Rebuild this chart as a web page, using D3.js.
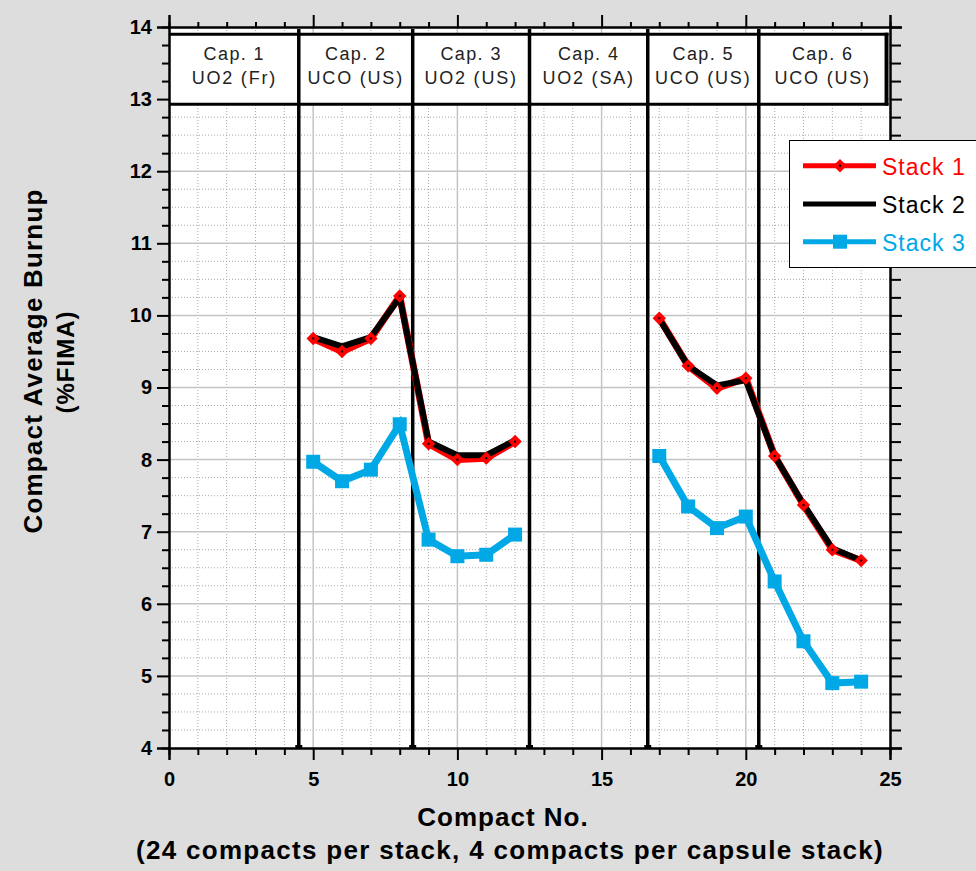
<!DOCTYPE html>
<html>
<head>
<meta charset="utf-8">
<script src="https://cdn.jsdelivr.net/npm/d3@7"></script>
<style>
  html, body { margin: 0; padding: 0; background: #dcdddc; }
  svg { display: block; }
</style>
</head>
<body>
<svg id="chart" width="976" height="871"></svg>
<script>
// ---------------- DATA ----------------
const compactNo = [1,2,3,4,5,6,7,8,9,10,11,12,13,14,15,16,17,18,19,20,21,22,23,24];
const stack1 = [null,null,null,null, 9.68,9.50,9.68,10.27,8.22,8.00,8.02,8.25, null,null,null,null, 9.96,9.30,8.99,9.13,8.05,7.37,6.75,6.60];
const stack2 = [null,null,null,null, 9.70,9.57,9.70,10.25,8.25,8.06,8.06,8.27, null,null,null,null, 9.95,9.30,9.03,9.10,8.05,7.38,6.77,6.60];
const stack3 = [null,null,null,null, 7.97,7.70,7.86,8.49,6.89,6.66,6.68,6.96, null,null,null,null, 8.05,7.35,7.05,7.21,6.31,5.48,4.90,4.92];
const seriesNames = ["Stack 1", "Stack 2", "Stack 3"];
const capsuleNames = ["Cap. 1", "Cap. 2", "Cap. 3", "Cap. 4", "Cap. 5", "Cap. 6"];
const capsuleFuel = ["UO2 (Fr)", "UCO (US)", "UO2 (US)", "UO2 (SA)", "UCO (US)", "UCO (US)"];
const capsuleDividers = [4.5, 8.45, 12.5, 16.6, 20.45];
const xTicks = [0, 5, 10, 15, 20, 25];
const yTicks = [4, 5, 6, 7, 8, 9, 10, 11, 12, 13, 14];
const xTitle = "Compact No.";
const xSubtitle = "(24 compacts per stack, 4 compacts per capsule stack)";
const yTitle = "Compact Average Burnup";
const ySubtitle = "(%FIMA)";

// ---------------- LAYOUT ----------------
const svg = d3.select("#chart");
const L = 169, R = 890, T = 27, B = 748;
const x = d3.scaleLinear().domain([0, 25]).range([L, R]);
const y = d3.scaleLinear().domain([4, 14]).range([B, T]);
const RED = "#ff0000", BLACK = "#000000", BLUE = "#00a8e6";

svg.append("rect").attr("width", 976).attr("height", 871).attr("fill", "#dcdddc");
svg.append("rect").attr("x", L).attr("y", T).attr("width", R - L).attr("height", B - T).attr("fill", "#fff");

// minor grid
const xMinor = d3.range(1, 25).filter(v => v % 5 !== 0);
const yMinor = d3.range(4, 14.001, 0.25).filter(v => Math.abs(v - Math.round(v)) > 1e-6);
const grid = svg.append("g");
grid.selectAll(".xm").data(xMinor).join("line")
  .attr("x1", d => x(d)).attr("x2", d => x(d)).attr("y1", T).attr("y2", B)
  .attr("stroke", "#aaaaaa").attr("stroke-width", 1).attr("stroke-dasharray", "1,2");
grid.selectAll(".ym").data(yMinor).join("line")
  .attr("y1", d => y(d)).attr("y2", d => y(d)).attr("x1", L).attr("x2", R)
  .attr("stroke", "#aaaaaa").attr("stroke-width", 1).attr("stroke-dasharray", "1,2");
// major grid
grid.selectAll(".xM").data(xTicks.slice(1, -1)).join("line")
  .attr("x1", d => x(d)).attr("x2", d => x(d)).attr("y1", T).attr("y2", B)
  .attr("stroke", "#c4c4c4").attr("stroke-width", 1.5);
grid.selectAll(".yM").data(yTicks.slice(1, -1)).join("line")
  .attr("y1", d => y(d)).attr("y2", d => y(d)).attr("x1", L).attr("x2", R)
  .attr("stroke", "#c4c4c4").attr("stroke-width", 1.5);

// capsule label boxes
const boxTop = y(13.9), boxBot = y(12.93);
const bounds = [0.03].concat(capsuleDividers, [24.88]);
svg.append("rect").attr("x", x(bounds[0])).attr("y", boxTop)
  .attr("width", x(bounds[6]) - x(bounds[0])).attr("height", boxBot - boxTop)
  .attr("fill", "#fff").attr("stroke", "none");
svg.append("line").attr("x1", x(bounds[0])).attr("x2", x(bounds[6]) + 2).attr("y1", boxTop).attr("y2", boxTop)
  .attr("stroke", "#000").attr("stroke-width", 3);
svg.append("line").attr("x1", x(bounds[0])).attr("x2", x(bounds[6]) + 2).attr("y1", boxBot).attr("y2", boxBot)
  .attr("stroke", "#000").attr("stroke-width", 3);
svg.append("line").attr("x1", x(bounds[6])).attr("x2", x(bounds[6])).attr("y1", boxTop - 1.5).attr("y2", boxBot + 1.5)
  .attr("stroke", "#000").attr("stroke-width", 4);

const capG = svg.append("g");
capsuleNames.forEach((n, i) => {
  const cx = (x(bounds[i]) + x(bounds[i + 1])) / 2;
  capG.append("text").attr("x", cx).attr("y", 60).attr("text-anchor", "middle")
    .attr("font-family", "Liberation Sans, Arial, sans-serif").attr("font-size", 18)
    .attr("letter-spacing", 1.4).attr("fill", "#222").text(n);
  capG.append("text").attr("x", cx).attr("y", 83.5).attr("text-anchor", "middle")
    .attr("font-family", "Liberation Sans, Arial, sans-serif").attr("font-size", 18)
    .attr("letter-spacing", 1.8).attr("fill", "#222").text(capsuleFuel[i]);
});

// dividers
const divG = svg.append("g");
divG.selectAll("line").data(capsuleDividers).join("line")
  .attr("x1", d => x(d)).attr("x2", d => x(d)).attr("y1", T + 2).attr("y2", B)
  .attr("stroke", "#000").attr("stroke-width", 3.5);
divG.selectAll("rect").data(capsuleDividers).join("rect")
  .attr("x", d => x(d) - 3.5).attr("y", B - 3).attr("width", 7).attr("height", 3).attr("fill", "#000");

// axes
function styleAxis(g) {
  g.selectAll(".domain").attr("stroke", "#000").attr("stroke-width", 2);
  g.selectAll(".tick line").attr("stroke", "#000").attr("stroke-width", 2);
  g.selectAll("text").attr("font-family", "Liberation Sans, Arial, sans-serif")
    .attr("font-weight", "bold").attr("font-size", 20).attr("fill", "#000");
}
const tickFmt = d3.format("d");
svg.append("g").attr("transform", `translate(0,${B})`)
  .call(d3.axisBottom(x).tickValues(xMinor).tickSize(7).tickFormat("")).call(styleAxis);
svg.append("g").attr("transform", `translate(0,${B})`)
  .call(d3.axisBottom(x).tickValues(xTicks).tickSize(12).tickPadding(12).tickFormat(tickFmt)).call(styleAxis);
svg.append("g").attr("transform", `translate(0,${T})`)
  .call(d3.axisTop(x).tickValues(xMinor).tickSize(5).tickFormat("")).call(styleAxis);
svg.append("g").attr("transform", `translate(0,${T})`)
  .call(d3.axisTop(x).tickValues(xTicks).tickSize(12).tickFormat("")).call(styleAxis);
svg.append("g").attr("transform", `translate(${L},0)`)
  .call(d3.axisLeft(y).tickValues(yMinor).tickSize(7).tickFormat("")).call(styleAxis);
svg.append("g").attr("transform", `translate(${L},0)`)
  .call(d3.axisLeft(y).tickValues(yTicks).tickSize(12).tickPadding(5).tickFormat(tickFmt)).call(styleAxis);
svg.append("g").attr("transform", `translate(${R},0)`)
  .call(d3.axisRight(y).tickValues(yMinor).tickSize(11).tickFormat("")).call(styleAxis);
svg.append("g").attr("transform", `translate(${R},0)`)
  .call(d3.axisRight(y).tickValues(yTicks).tickSize(12).tickFormat("")).call(styleAxis);

// series
const toPts = arr => compactNo.map((c, i) => ({ c, v: arr[i] }));
const line = d3.line().defined(d => d.v !== null).x(d => x(d.c)).y(d => y(d.v));
const s1 = toPts(stack1), s2 = toPts(stack2), s3 = toPts(stack3);

svg.append("path").datum(s1).attr("d", line).attr("fill", "none").attr("stroke", RED)
  .attr("stroke-width", 7).attr("stroke-linejoin", "round");
svg.append("path").datum(s2).attr("d", line).attr("fill", "none").attr("stroke", BLACK)
  .attr("stroke-width", 6).attr("stroke-linejoin", "round");
const diamond = d3.symbol().type(d3.symbolDiamond2).size(115);
const d1 = s1.filter(d => d.v !== null);
svg.append("g").selectAll("path").data(d1).join("path")
  .attr("transform", d => `translate(${x(d.c)},${y(d.v)})`).attr("d", diamond).attr("fill", RED);
svg.append("g").selectAll("rect").data(d1).join("rect")
  .attr("x", d => x(d.c) - 1).attr("y", d => y(d.v) - 1).attr("width", 2).attr("height", 2).attr("fill", "#000");

svg.append("path").datum(s3).attr("d", line).attr("fill", "none").attr("stroke", BLUE)
  .attr("stroke-width", 7).attr("stroke-linejoin", "miter");
const d3p = s3.filter(d => d.v !== null);
svg.append("g").selectAll("rect").data(d3p).join("rect")
  .attr("x", d => x(d.c) - 7).attr("y", d => y(d.v) - 7).attr("width", 14).attr("height", 14).attr("fill", BLUE);

// legend
const lg = svg.append("g");
lg.append("rect").attr("x", 789.5).attr("y", 140.5).attr("width", 200).attr("height", 127)
  .attr("fill", "#fff").attr("stroke", "#000").attr("stroke-width", 1);
const legY = [165.7, 204, 241.7];
const legColors = [RED, BLACK, BLUE];
const legText = ["#ff0000", "#000000", "#00a8e6"];
seriesNames.forEach((n, i) => {
  lg.append("line").attr("x1", 803).attr("x2", 876).attr("y1", legY[i]).attr("y2", legY[i])
    .attr("stroke", legColors[i]).attr("stroke-width", 5);
  if (i === 0) {
    lg.append("path").attr("transform", `translate(840,${legY[i]})`).attr("d", diamond).attr("fill", RED);
    lg.append("rect").attr("x", 839).attr("y", legY[i] - 1).attr("width", 2).attr("height", 2).attr("fill", "#000");
  }
  if (i === 2) {
    lg.append("rect").attr("x", 840 - 7).attr("y", legY[i] - 7).attr("width", 14).attr("height", 14).attr("fill", BLUE);
  }
  lg.append("text").attr("x", 882).attr("y", legY[i] + 9).attr("font-family", "Liberation Sans, Arial, sans-serif")
    .attr("font-size", 23).attr("letter-spacing", 1).attr("fill", legText[i]).text(n);
});

// titles
svg.append("text").attr("x", 503).attr("y", 826).attr("text-anchor", "middle")
  .attr("font-family", "Liberation Sans, Arial, sans-serif").attr("font-weight", "bold")
  .attr("font-size", 26).attr("letter-spacing", 1).attr("fill", "#000").text(xTitle);
svg.append("text").attr("x", 510).attr("y", 859).attr("text-anchor", "middle")
  .attr("font-family", "Liberation Sans, Arial, sans-serif").attr("font-weight", "bold")
  .attr("font-size", 26).attr("letter-spacing", 1.3).attr("fill", "#000").text(xSubtitle);
svg.append("text").attr("transform", "translate(42,361) rotate(-90)").attr("text-anchor", "middle")
  .attr("font-family", "Liberation Sans, Arial, sans-serif").attr("font-weight", "bold")
  .attr("font-size", 26).attr("letter-spacing", 1.2).attr("fill", "#000").text(yTitle);
svg.append("text").attr("transform", "translate(74,362) rotate(-90)").attr("text-anchor", "middle")
  .attr("font-family", "Liberation Sans, Arial, sans-serif").attr("font-weight", "bold")
  .attr("font-size", 24).attr("letter-spacing", 1).attr("fill", "#000").text(ySubtitle);
</script>
</body>
</html>
